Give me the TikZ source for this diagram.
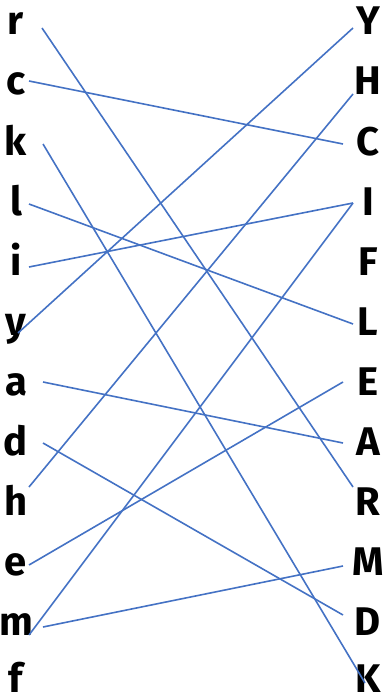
\documentclass[tikz,border=0pt]{standalone}
\usepackage{fontspec}
\setmainfont{Fira Sans}
\usepackage{tikz}
\usepackage{xcolor}
\definecolor{linkblue}{RGB}{68,114,196}

\begin{document}
\begin{tikzpicture}[x=1pt,y=-1pt,every node/.style={font=\fontsize{40}{40}\selectfont\bfseries,inner sep=0pt,anchor=base},
  link/.style={draw=linkblue,line width=1.6pt}]
\useasboundingbox (0,0) rectangle (388,698);
% left column
\node (r) at (16,35) {r};
\node (c) at (16,95) {c};
\node (k) at (16,155) {k};
\node (l) at (16,215) {l};
\node (i) at (16,275) {i};
\node (y) at (16,335) {y};
\node (a) at (16,395) {a};
\node (d) at (16,455) {d};
\node (h) at (16,515) {h};
\node (e) at (16,575) {e};
\node (m) at (16,635) {m};
\node (f) at (16,692) {f};
% right column
\node (Y) at (368,35) {Y};
\node (H) at (368,95) {H};
\node (C) at (368,155) {C};
\node (I) at (368,215) {I};
\node (F) at (368,275) {F};
\node (L) at (368,335) {L};
\node (E) at (368,395) {E};
\node (A) at (368,455) {A};
\node (R) at (368,515) {R};
\node (M) at (368,575) {M};
\node (D) at (368,635) {D};
\node (K) at (368,692) {K};
% matches
\draw[link] ([shift={(26,-7)}]r.base) -- ([shift={(-15,-28)}]R.base);
\draw[link] ([shift={(13,-14)}]c.base) -- ([shift={(-25,-11)}]C.base);
\draw[link] ([shift={(27,-11)}]k.base) -- ([shift={(-3,-9)}]K.base);
\draw[link] ([shift={(13,-11)}]l.base) -- ([shift={(-15,-11)}]L.base);
\draw[link] ([shift={(13,-8)}]i.base) -- ([shift={(-15,-12)}]I.base);
\draw[link] ([shift={(2,-2)}]y.base) -- ([shift={(-15,-7)}]Y.base);
\draw[link] ([shift={(27,-13)}]a.base) -- ([shift={(-25,-12)}]A.base);
\draw[link] ([shift={(27,-12)}]d.base) -- ([shift={(-25,-20)}]D.base);
\draw[link] ([shift={(13,-28)}]h.base) -- ([shift={(-15,-1)}]H.base);
\draw[link] ([shift={(13,-10)}]e.base) -- ([shift={(-25,-13)}]E.base);
\draw[link] ([shift={(27,-8)}]m.base) -- ([shift={(-25,-9)}]M.base);
\draw[link] ([shift={(13,0)}]m.base) -- ([shift={(-15,-12)}]I.base);
\end{tikzpicture}
\end{document}
